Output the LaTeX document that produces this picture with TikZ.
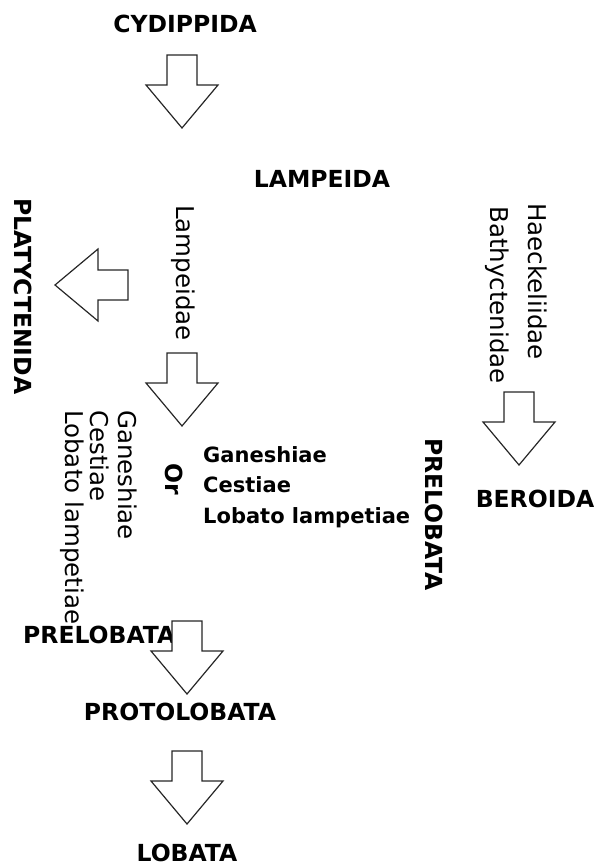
\documentclass[tikz,border=0pt]{standalone}
\usepackage{fontspec}
\setmainfont{DejaVu Sans}
\begin{document}
\begin{tikzpicture}[x=1pt,y=1pt,
  title/.style={inner sep=0pt,font=\fontsize{23.5}{28}\selectfont\bfseries},
  vtitle/.style={title,rotate=-90,anchor=west},
  vlabel/.style={inner sep=0pt,font=\fontsize{24.5}{29}\selectfont,rotate=-90,anchor=west},
  hlabel/.style={inner sep=0pt,font=\fontsize{21}{25}\selectfont\bfseries,anchor=base west},
  arrowline/.style={draw=black!85,line width=1.2pt,fill=white,line join=miter},
  blockarrow/.pic={\path[arrowline] (-15,0) -- (-15,-30) -- (-36,-30) -- (0,-73) -- (36,-30) -- (15,-30) -- (15,0) -- cycle;}
]
\useasboundingbox (0,0) rectangle (594,-865);
% titles
\node[title,anchor=base] (cyd) at (185,-32) {CYDIPPIDA};
\node[title,anchor=base] (lamp) at (322,-187) {LAMPEIDA};
\node[vtitle] (platy) at (23,-198) {PLATYCTENIDA};
\node[vlabel] (lampeidae) at (183,-205) {Lampeidae};
\node[vlabel] (haeck) at (538,-203) {Haeckeliidae};
\node[vlabel] (bathy) at (497,-206) {Bathyctenidae};
\node[vtitle] (or) at (174,-463) {Or};
\node[vlabel] (vgan) at (128,-410) {Ganeshiae};
\node[vlabel] (vces) at (100,-410) {Cestiae};
\node[vlabel] (vlob) at (72,-410) {Lobato lampetiae};
\node[hlabel] (hgan) at (203,-462) {Ganeshiae};
\node[hlabel] (hces) at (203,-492) {Cestiae};
\node[hlabel] (hlob) at (203,-523) {Lobato lampetiae};
\node[vtitle] (prelr) at (434,-438) {PRELOBATA};
\node[title,anchor=base] (bero) at (535,-507) {BEROIDA};
\node[title,anchor=base west] (prelb) at (23,-643) {PRELOBATA};
\node[title,anchor=base] (proto) at (180,-720) {PROTOLOBATA};
\node[title,anchor=base] (lob) at (187,-861) {LOBATA};
% block arrows
\pic at (182,-55) {blockarrow};
\pic at (182,-353) {blockarrow};
\pic[rotate=-90] at (128,-285) {blockarrow};
\pic at (519,-392) {blockarrow};
\pic at (187,-621) {blockarrow};
\pic at (187,-751) {blockarrow};
\end{tikzpicture}
\end{document}
